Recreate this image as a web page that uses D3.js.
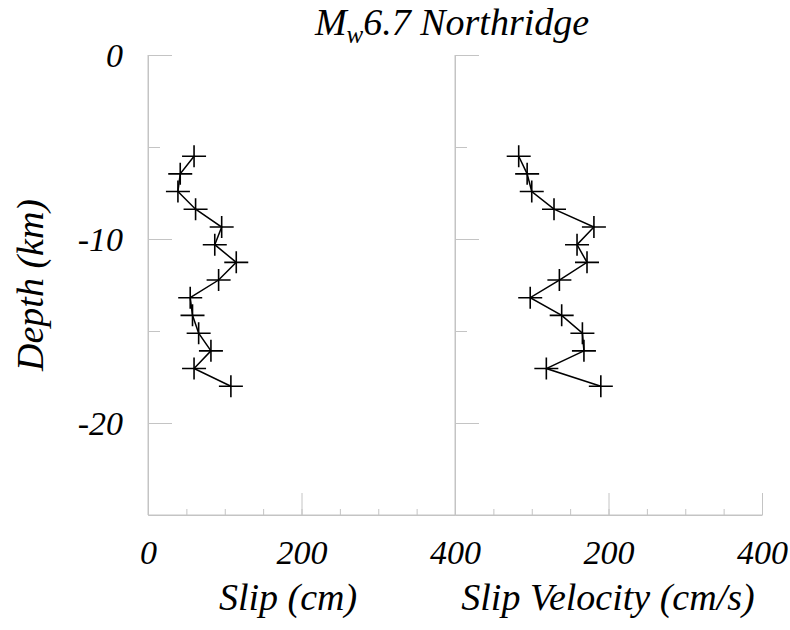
<!DOCTYPE html>
<html>
<head>
<meta charset="utf-8">
<style>
  body { margin: 0; background: #fff; }
  .axis path, .axis line { stroke: #c4c4c4; stroke-width: 1; }
</style>
</head>
<body>
<div id="chart"></div>
<script src="https://cdn.jsdelivr.net/npm/d3@7"></script>
<script>
    // depth of each subfault row (km, negative = down)
    var depths = [-5.5, -6.46, -7.42, -8.38, -9.35, -10.31, -11.27, -12.23, -13.19, -14.15, -15.12, -16.08, -17.04, -18.0];
    // slip per row (cm)
    var slip = [60, 42, 39, 62, 96, 87, 115, 92, 55, 58, 66, 82, 60, 108];
    // slip velocity per row (cm/s)
    var slipVelocity = [83, 94, 100, 129, 181, 159, 172, 136, 98, 139, 166, 168, 119, 190];

    var depthTicks = [0, -10, -20];
    var depthMinor = [0, -5, -10, -15, -20];
    var slipTicks = [0, 200, 400];
    var velTicks = [200, 400];
    var minorTicks = [0, 50, 100, 150, 200, 250, 300, 350, 400];

    var width = 790, height = 630;

    var svg = d3.select("#chart").append("svg")
        .attr("width", width)
        .attr("height", height);

    var y = d3.scaleLinear().domain([0, -25]).range([55, 515]);
    var xSlip = d3.scaleLinear().domain([0, 400]).range([148, 455]);
    var xVel = d3.scaleLinear().domain([0, 400]).range([455, 762]);

    function styleText(sel, size) {
        sel.attr("font-family", null)
            .style("font-family", "'Liberation Serif'")
            .style("font-style", "italic")
            .style("font-size", size)
            .style("fill", "#000");
    }

    // one panel = y axis + bottom axis + line with cross markers
    function panel(x, values, labels, showLabels) {
        var g = svg.append("g");

        g.append("g").attr("class", "axis")
            .attr("transform", "translate(" + x.range()[0] + ",0)")
            .call(d3.axisLeft(y).tickValues(depthMinor).tickSizeInner(-12).tickSizeOuter(0).tickFormat(""));
        var ya = g.append("g").attr("class", "axis")
            .attr("transform", "translate(" + x.range()[0] + ",0)")
            .call(d3.axisLeft(y).tickValues(depthTicks).tickSizeInner(-24).tickSizeOuter(0).tickPadding(25)
                .tickFormat(function(d) { return showLabels ? String(d) : ""; }));
        ya.selectAll("text").attr("dy", "0.34em").attr("x", -25);
        styleText(ya.selectAll("text"), "34px");

        g.append("g").attr("class", "axis")
            .attr("transform", "translate(0," + y.range()[1] + ")")
            .call(d3.axisBottom(x).tickValues(minorTicks).tickSizeInner(-6).tickSizeOuter(0).tickFormat(""));
        var xa = g.append("g").attr("class", "axis")
            .attr("transform", "translate(0," + y.range()[1] + ")")
            .call(d3.axisBottom(x).tickValues(labels).tickSizeInner(-22).tickSizeOuter(0).tickPadding(25)
                .tickFormat(function(d) { return String(d); }));
        styleText(xa.selectAll("text"), "34px");
        xa.selectAll(".domain").attr("d", "M" + x.range()[0] + ",0H" + x.range()[1]);
        ya.selectAll(".domain").attr("d", "M0," + y.range()[0] + "V" + y.range()[1]);

        var pts = values.map(function(v, i) { return [v, depths[i]]; });
        var line = d3.line().x(function(d) { return x(d[0]); }).y(function(d) { return y(d[1]); });
        g.append("path").datum(pts)
            .attr("d", line)
            .attr("fill", "none")
            .attr("stroke", "#000")
            .attr("stroke-width", 1.5);
        g.selectAll(".cross").data(pts).enter().append("path")
            .attr("class", "cross")
            .attr("transform", function(d) { return "translate(" + x(d[0]) + "," + y(d[1]) + ")"; })
            .attr("d", "M-12,0H12M0,-11V11")
            .attr("stroke", "#000")
            .attr("stroke-width", 1.6);
    }

    panel(xSlip, slip, slipTicks, true);
    panel(xVel, slipVelocity, velTicks, false);

    // title
    var title = svg.append("text")
        .attr("x", 452)
        .attr("y", 35)
        .attr("text-anchor", "middle");
    styleText(title, "38px");
    title.append("tspan").text("M");
    title.append("tspan").text("w").attr("dy", 8).style("font-size", "25px");
    title.append("tspan").text("6.7 Northridge").attr("dy", -8);

    styleText(svg.append("text")
        .attr("x", 288)
        .attr("y", 610)
        .attr("text-anchor", "middle")
        .text("Slip (cm)"), "38px");

    styleText(svg.append("text")
        .attr("x", 608)
        .attr("y", 610)
        .attr("text-anchor", "middle")
        .text("Slip Velocity (cm/s)"), "38px");

    styleText(svg.append("text")
        .attr("transform", "translate(43,285) rotate(-90)")
        .attr("text-anchor", "middle")
        .text("Depth (km)"), "38px");
</script>
</body>
</html>
